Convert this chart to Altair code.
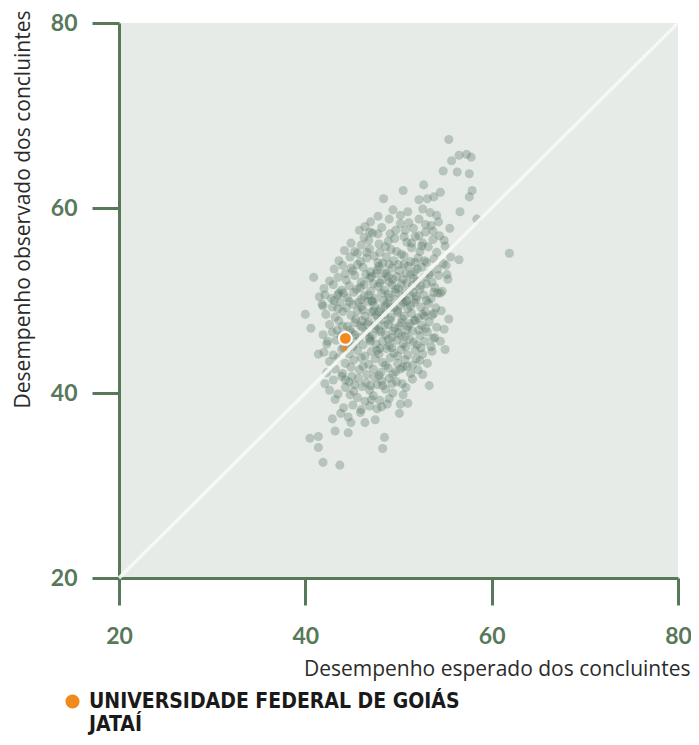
import altair as alt
import pandas as pd

# [expected, observed] pairs
upper_cloud = [
    [55.4, 67.4], [56.5, 65.7], [57.3, 65.8], [57.8, 65.5], [55.7, 65.1], [54.8, 64.0],
    [56.3, 63.9], [57.6, 63.7], [52.7, 62.5], [57.9, 61.9], [57.6, 61.2], [56.6, 59.6],
    [58.4, 58.8], [54.5, 61.7], [53.8, 61.2], [53.1, 61.0], [52.2, 60.9], [54.1, 59.2],
    [52.2, 58.8], [50.5, 61.9], [48.4, 61.0], [51.0, 59.6], [49.0, 58.8], [47.0, 58.5],
    [46.9, 57.4], [47.8, 57.2], [49.7, 57.6], [50.6, 56.9], [52.6, 59.9], [53.4, 59.5],
    [54.3, 58.5], [52.9, 58.2], [53.7, 57.5], [54.9, 56.5], [55.5, 57.8], [52.2, 57.0],
    [51.1, 58.4], [50.2, 59.2], [49.4, 59.8], [47.8, 59.1], [46.4, 58.0],
]
right_edge = [
    [61.9, 55.1], [56.5, 54.4], [55.2, 52.8], [54.5, 50.8], [53.8, 48.6], [55.4, 48.0],
    [54.9, 46.9], [54.5, 45.6], [55.0, 44.7], [52.8, 48.3], [52.6, 42.0], [53.3, 40.8],
    [51.0, 38.9],
]
lower_tail = [
    [42.1, 41.0], [43.5, 39.9], [43.8, 37.8], [44.9, 36.8], [43.2, 35.9], [44.6, 35.7],
    [40.5, 35.1], [41.4, 35.3], [41.4, 34.1], [41.9, 32.5], [43.7, 32.2], [48.5, 35.2],
    [48.3, 34.0], [50.4, 41.0], [49.4, 40.0], [50.2, 38.8], [50.1, 37.8], [48.3, 40.8],
]
left_edge = [
    [40.9, 52.5], [42.1, 50.6], [43.5, 50.6], [41.9, 49.4], [40.0, 48.5], [40.6, 47.0],
    [43.5, 49.1], [41.4, 44.2], [42.4, 45.6], [44.3, 52.9], [45.6, 53.9], [45.3, 55.3],
]
core = [
    [45.8, 57.6], [48.2, 57.9], [49.1, 57.2], [51.6, 57.8], [52.9, 57.4], [53.5, 58.1], [46.3, 56.8], [50.2, 58.3],
    [44.9, 56.2], [46.8, 56.5], [47.9, 56.1], [49.6, 56.7], [50.9, 56.3], [51.8, 56.9], [52.6, 56.2], [53.7, 56.6],
    [54.4, 57.0], [48.6, 55.8],
    [44.2, 55.4], [45.6, 55.1], [46.9, 55.6], [48.0, 55.2], [49.2, 55.5], [50.3, 55.0], [51.4, 55.7], [52.3, 55.3],
    [53.2, 55.8], [54.1, 55.2], [55.0, 55.9], [47.4, 54.8],
    [43.6, 54.3], [44.8, 54.7], [45.9, 54.2], [46.6, 54.6], [47.8, 54.1], [48.7, 54.7], [49.5, 54.3], [50.6, 54.8],
    [51.3, 54.2], [52.1, 54.6], [53.0, 54.1], [53.8, 54.5], [54.8, 54.0], [55.6, 54.7], [50.0, 53.9],
    [43.1, 53.4], [44.0, 53.8], [45.1, 53.2], [46.2, 53.6], [47.0, 53.1], [47.9, 53.7], [48.5, 53.0], [49.3, 53.5],
    [50.1, 53.2], [51.0, 53.7], [51.7, 53.1], [52.5, 53.6], [53.4, 53.0], [54.2, 53.4], [55.1, 53.8], [48.9, 52.6],
    [46.5, 52.8],
    [42.6, 52.1], [43.5, 52.5], [44.4, 52.2], [45.3, 52.7], [46.0, 52.0], [46.9, 52.4], [47.6, 52.9], [48.2, 52.2],
    [49.0, 52.0], [49.8, 52.6], [50.5, 52.3], [51.3, 52.8], [52.0, 52.1], [52.8, 52.5], [53.6, 52.0], [54.3, 52.7],
    [55.3, 52.3], [50.9, 51.9], [47.3, 51.8],
    [42.0, 51.3], [43.0, 51.7], [43.9, 51.1], [44.7, 51.6], [45.5, 51.2], [46.3, 51.7], [47.0, 51.0], [47.8, 51.5],
    [48.5, 51.1], [49.3, 51.7], [50.0, 51.3], [50.7, 51.0], [51.5, 51.6], [52.3, 51.2], [53.0, 51.8], [53.9, 51.4],
    [54.7, 51.0], [44.1, 50.8], [48.9, 50.7],
    [41.5, 50.4], [42.8, 50.2], [43.6, 50.8], [44.5, 50.3], [45.2, 50.9], [46.0, 50.1], [46.8, 50.6], [47.5, 50.2],
    [48.2, 50.8], [49.0, 50.3], [49.7, 50.9], [50.4, 50.4], [51.2, 50.7], [51.9, 50.1], [52.7, 50.6], [53.5, 50.2],
    [54.2, 50.8], [45.7, 49.8], [50.8, 49.9],
    [41.8, 49.6], [42.9, 49.3], [43.7, 49.8], [44.4, 49.2], [45.1, 49.6], [46.0, 49.3], [46.7, 49.9], [47.4, 49.4],
    [48.1, 49.1], [48.8, 49.7], [49.5, 49.2], [50.2, 49.5], [51.0, 49.1], [51.7, 49.8], [52.4, 49.3], [53.2, 49.7],
    [54.0, 49.2], [47.9, 48.8], [49.9, 48.7],
    [42.2, 48.5], [43.2, 48.2], [44.0, 48.8], [44.9, 48.4], [45.6, 48.9], [46.4, 48.3], [47.1, 48.7], [47.8, 48.1],
    [48.5, 48.5], [49.2, 48.2], [49.9, 48.9], [50.6, 48.3], [51.4, 48.6], [52.1, 48.1], [52.9, 48.8], [53.6, 48.4],
    [54.6, 48.9], [46.1, 47.8], [51.8, 47.9],
    [42.6, 47.4], [43.6, 47.8], [44.5, 47.2], [45.3, 47.6], [46.1, 47.1], [46.8, 47.7], [47.5, 47.3], [48.2, 47.9],
    [48.9, 47.4], [49.6, 47.0], [50.3, 47.6], [51.0, 47.2], [51.7, 47.8], [52.5, 47.3], [53.3, 47.7], [54.1, 47.1],
    [44.8, 46.8], [49.4, 46.7],
    [41.9, 46.3], [42.9, 46.6], [43.8, 46.2], [45.0, 46.5], [45.8, 46.0], [46.5, 46.6], [47.2, 46.2], [47.9, 46.8],
    [48.6, 46.3], [49.3, 46.0], [50.0, 46.5], [50.7, 46.1], [51.5, 46.7], [52.3, 46.2], [53.1, 46.6], [53.9, 46.0],
    [44.3, 45.8],
    [42.3, 45.3], [43.3, 45.7], [44.6, 45.1], [45.4, 45.5], [46.2, 45.2], [46.9, 45.8], [47.6, 45.3], [48.3, 45.6],
    [49.0, 45.1], [49.8, 45.7], [50.5, 45.3], [51.2, 45.8], [52.0, 45.2], [52.8, 45.6], [53.5, 45.0], [48.0, 44.8],
    [42.0, 44.4], [43.0, 44.1], [43.9, 44.7], [44.7, 44.2], [45.6, 44.6], [46.4, 44.0], [47.1, 44.5], [47.9, 44.2],
    [48.7, 44.8], [49.5, 44.3], [50.3, 44.7], [51.0, 44.1], [51.8, 44.6], [52.6, 44.2], [53.6, 44.5], [46.0, 43.8],
    [42.6, 43.4], [43.5, 43.8], [44.3, 43.2], [45.2, 43.6], [46.8, 43.1], [47.5, 43.7], [48.3, 43.3], [49.1, 43.8],
    [49.9, 43.2], [50.7, 43.6], [51.5, 43.0], [52.3, 43.5], [53.1, 43.2], [44.9, 42.8],
    [42.3, 42.2], [43.2, 42.6], [44.0, 42.1], [45.8, 42.5], [46.6, 42.0], [47.3, 42.6], [48.1, 42.2], [48.9, 42.7],
    [49.7, 42.3], [50.5, 42.8], [51.3, 42.1], [52.1, 42.5], [45.0, 41.8],
    [43.0, 41.4], [43.9, 41.8], [44.7, 41.2], [45.7, 41.6], [46.5, 41.1], [47.4, 41.7], [48.2, 41.3], [49.0, 41.6],
    [49.8, 41.2], [51.5, 41.5], [47.0, 40.8],
    [42.6, 40.3], [44.3, 40.6], [45.2, 40.2], [46.1, 40.7], [46.9, 40.3], [47.7, 40.9], [48.6, 40.4], [50.8, 40.6],
    [44.8, 39.8],
    [43.2, 39.3], [45.6, 39.5], [46.4, 39.1], [47.3, 39.7], [48.0, 39.2], [49.0, 39.4], [46.9, 38.6],
    [44.1, 38.4], [45.1, 38.7], [47.7, 38.3], [48.8, 38.8], [45.9, 37.9],
    [42.9, 37.2], [44.6, 37.4], [46.4, 36.8], [47.5, 37.1],
]
core_fill = [
    [48.4, 50.0], [49.6, 50.1], [50.9, 50.0], [47.2, 49.9], [48.0, 51.9], [49.4, 52.3], [50.3, 51.8], [51.6, 52.4],
    [47.6, 48.4], [49.1, 47.9], [50.4, 48.0], [51.3, 49.4], [52.6, 48.5], [46.7, 47.4], [48.1, 46.6], [50.9, 46.8],
    [47.0, 45.6], [49.3, 44.9], [50.8, 45.0], [46.3, 50.5], [45.4, 48.0], [52.0, 53.4], [50.6, 53.9], [48.3, 54.0],
    [47.1, 50.0], [51.9, 50.4], [49.1, 49.3], [45.3, 46.3], [53.0, 50.0], [44.0, 47.2],
]
core_fill_2 = [
    [46.2, 49.0], [47.3, 48.9], [48.6, 49.4], [50.5, 49.8], [51.6, 50.9], [52.4, 51.6], [49.7, 51.2], [48.7, 52.9],
    [47.7, 53.3], [50.8, 52.9], [51.8, 54.1], [49.8, 55.3], [48.9, 56.4], [50.7, 57.6], [52.5, 55.9],
    [47.5, 47.0], [48.5, 47.3], [50.1, 47.2], [51.2, 47.5], [52.2, 46.8], [46.9, 46.0], [48.9, 45.8], [50.3, 46.2],
    [51.6, 45.5], [47.7, 44.6], [49.9, 44.0], [48.6, 43.0], [50.2, 42.6], [47.9, 41.9], [49.3, 41.0],
    [45.9, 47.3], [45.1, 45.0], [44.1, 44.9], [43.4, 46.8], [44.7, 49.9], [43.1, 50.0], [45.9, 51.4], [44.9, 53.5],
    [46.6, 55.2], [47.1, 52.6], [53.3, 52.8], [53.8, 50.9], [52.9, 47.0], [53.7, 45.9], [52.4, 44.9], [51.9, 43.7],
    [50.9, 42.9], [49.4, 42.0], [46.2, 42.9], [45.3, 40.9], [48.2, 38.5], [47.1, 39.3], [50.5, 39.8], [46.0, 38.2],
    [44.3, 41.4], [51.4, 56.2], [52.8, 54.3], [49.0, 53.9], [46.0, 56.0], [47.2, 57.3],
]

highlight_name = "UNIVERSIDADE FEDERAL DE GOIÁS|JATAÍ"
highlight_expected = [44.3]
highlight_observed = [45.9]
hidden_expected = [44.2]
hidden_observed = [44.8]

diagonal = [20, 80]
ticks = [20, 40, 60, 80]

GREEN = "#58785a"
pts = upper_cloud + right_edge + lower_tail + left_edge + core + core_fill + core_fill_2
df = pd.DataFrame(pts, columns=["expected", "observed"])
hl = pd.DataFrame({"expected": highlight_expected, "observed": highlight_observed,
                   "ies": [highlight_name]})
hidden = pd.DataFrame({"expected": hidden_expected, "observed": hidden_observed})
diag = pd.DataFrame({"expected": diagonal, "observed": diagonal})

xscale = alt.Scale(domain=[20, 80], nice=False, zero=False)
yscale = alt.Scale(domain=[20, 80], nice=False, zero=False)

xaxis = alt.Axis(values=ticks, title="Desempenho esperado dos concluintes",
                 titleAnchor="end", titleAlign="right", titleX=571, titleY=97,
                 titleBaseline="alphabetic", labelPadding=20, labelFlush=False)
yaxis = alt.Axis(values=ticks, title="Desempenho observado dos concluintes",
                 titleAnchor="end", titleAlign="right", titleAngle=-90,
                 titleX=-90, titleY=-13, titleBaseline="alphabetic", labelPadding=15,
                 labelFlush=False)

X = alt.X("expected:Q", scale=xscale, axis=xaxis)
Y = alt.Y("observed:Q", scale=yscale, axis=yaxis)

scatter = alt.Chart(df).mark_circle(size=82, color="#4f6f5a", opacity=0.31).encode(x=X, y=Y)
line = alt.Chart(diag).mark_line(color="#f7f9f7", strokeWidth=3.5, opacity=0.9).encode(
    x="expected:Q", y="observed:Q")
hidden_pt = alt.Chart(hidden).mark_circle(size=30, color="#f08a1c", opacity=0.8).encode(
    x="expected:Q", y="observed:Q")
highlight = alt.Chart(hl).mark_circle(size=165, opacity=1, stroke="white", strokeWidth=2).encode(
    x="expected:Q", y="observed:Q",
    color=alt.Color("ies:N", scale=alt.Scale(range=["#f08a1c"]),
                    legend=alt.Legend(title=None, orient="none", legendX=-57, legendY=668,
                                      symbolType="circle", symbolSize=200, symbolStrokeWidth=0,
                                      labelExpr="split(datum.label, '|')",
                                      labelFont="'Liberation Sans Narrow', 'DejaVu Sans Condensed', sans-serif",
                                      labelFontSize=21, labelFontWeight="bold", labelColor="#1a1a1a",
                                      labelOffset=6, labelLimit=600, padding=0)))

chart = alt.layer(scatter, line, hidden_pt, highlight).properties(
    width=559, height=555,
    autosize="none",
    padding={"left": 111, "top": 15, "right": 13, "bottom": 159},
).configure_view(fill="#e7ebe7", stroke=None).configure_axis(
    grid=False, domainColor=GREEN, domainWidth=3, tickColor=GREEN, tickWidth=3, tickSize=27,
    labelFont="Lato", labelFontSize=23, labelFontWeight="bold", labelColor=GREEN,
    titleFont="Open Sans", titleFontSize=21, titleFontWeight="normal",
    titleColor="#2b2b2b",
)

chart.save("out.html", embed_options={"renderer": "svg", "actions": False})
